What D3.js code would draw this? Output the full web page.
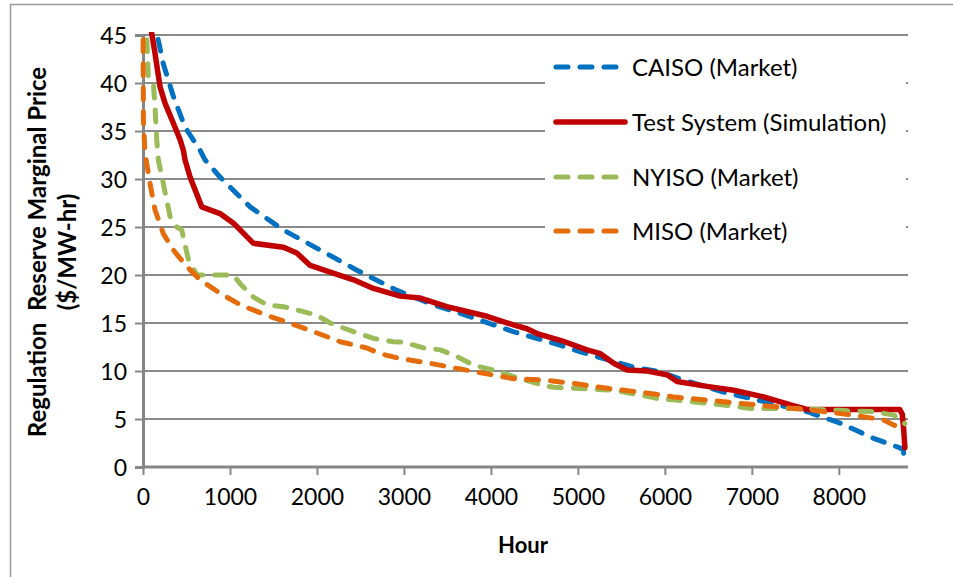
<!DOCTYPE html>
<html>
<head>
<meta charset="utf-8">
<script src="https://cdn.jsdelivr.net/npm/d3@7/dist/d3.min.js"></script>
<style>
  html, body { margin: 0; padding: 0; background: #fff; }
  svg { display: block; }
  text { font-family: Lato, "Liberation Sans", sans-serif; fill: #000; }
</style>
</head>
<body>
<svg id="chart" width="953" height="577"></svg>
<script>
// Price duration curves: regulation reserve marginal price sorted by hour
const caisoHours = [120, 158, 233, 349, 483, 656, 713, 886, 1231, 1611, 2037, 2459, 2919, 3337, 3648, 4258, 4718, 5029, 5409, 5639, 5950, 6214, 6674, 6985, 7637, 8021, 8400, 8700, 8740, 8760];
const caisoPrice = [47, 45.2, 42.0, 38.6, 35.4, 33.0, 32.0, 30.2, 27.1, 24.7, 22.6, 20.5, 18.4, 16.9, 16.0, 14.1, 12.9, 12.0, 11.0, 10.4, 9.9, 9.06, 7.8, 7.15, 5.76, 4.55, 2.99, 2.0, 1.8, 0.4];

const testHours = [60, 100, 138, 196, 253, 349, 426, 464, 483, 541, 675, 886, 1040, 1270, 1615, 1768, 1922, 2152, 2420, 2650, 2957, 3188, 3494, 3724, 3954, 4260, 4415, 4530, 4799, 5105, 5259, 5412, 5566, 5796, 6025, 6140, 6485, 6791, 7136, 7445, 7637, 8700, 8730, 8745, 8760];
const testPrice = [47, 45.2, 43.1, 39.6, 37.9, 35.8, 34.1, 33.0, 32.0, 30.2, 27.1, 26.4, 25.4, 23.3, 22.9, 22.3, 21.0, 20.3, 19.5, 18.6, 17.8, 17.6, 16.7, 16.2, 15.7, 14.8, 14.4, 13.9, 13.2, 12.2, 11.8, 10.8, 10.1, 10.0, 9.6, 8.9, 8.4, 8.0, 7.3, 6.46, 6.0, 6.0, 5.5, 4.0, 2.0];

const nyisoHours = [30, 42, 61, 119, 138, 158, 176, 234, 311, 388, 445, 522, 618, 1040, 1116, 1270, 1423, 1615, 1922, 1998, 2152, 2267, 2420, 2650, 2880, 2996, 3226, 3418, 3609, 3801, 4031, 4338, 4606, 4723, 4953, 5412, 5834, 5950, 6102, 6676, 6985, 7445, 8021, 8405, 8635, 8760];
const nyisoPrice = [47, 45.2, 40.7, 40.0, 37.5, 34.1, 32.0, 29.5, 26.1, 25.0, 24.7, 21.6, 20.0, 20.0, 19.1, 17.7, 16.9, 16.7, 16.0, 15.8, 15.0, 14.6, 14.1, 13.4, 13.05, 13.0, 12.4, 12.2, 11.5, 10.6, 10.1, 9.2, 8.5, 8.3, 8.2, 8.0, 7.3, 7.05, 7.0, 6.46, 6.1, 6.1, 5.9, 5.76, 5.4, 4.5];

const misoHours = [0, 5, 23, 81, 138, 234, 349, 502, 656, 886, 1116, 1423, 1653, 1960, 2267, 2574, 2727, 2957, 3303, 3648, 3954, 4261, 4606, 4953, 5336, 5719, 6102, 6676, 7251, 7710, 8171, 8516, 8760];
const misoPrice = [47, 36.0, 32.7, 29.5, 26.8, 24.3, 22.6, 20.9, 19.5, 18.1, 16.9, 15.8, 15.1, 14.1, 13.05, 12.4, 11.8, 11.3, 10.8, 10.2, 9.7, 9.2, 9.06, 8.7, 8.2, 7.8, 7.3, 6.8, 6.3, 5.9, 5.4, 4.9, 3.8];

const seriesNames = ["CAISO (Market)", "Test System (Simulation)", "NYISO (Market)", "MISO (Market)"];
const seriesColors = ["#0070C0", "#C00000", "#9BBB59", "#E46C0A"];
const xTicks = [0, 1000, 2000, 3000, 4000, 5000, 6000, 7000, 8000];
const yTicks = [0, 5, 10, 15, 20, 25, 30, 35, 40, 45];

const series = [
  { name: seriesNames[0], color: seriesColors[0], hours: caisoHours, price: caisoPrice, dash: "12,12", width: 5 },
  { name: seriesNames[1], color: seriesColors[1], hours: testHours, price: testPrice, dash: null, width: 5.5 },
  { name: seriesNames[2], color: seriesColors[2], hours: nyisoHours, price: nyisoPrice, dash: "12,12", width: 5 },
  { name: seriesNames[3], color: seriesColors[3], hours: misoHours, price: misoPrice, dash: "12,12", width: 5 }
];

const svg = d3.select("#chart");
const plot = { left: 143, right: 907, top: 35, bottom: 467 };

const x = d3.scaleLinear().domain([0, 8784]).range([plot.left, plot.right]);
const y = d3.scaleLinear().domain([0, 45]).range([plot.bottom, plot.top]);

// outer chart frame
svg.append("rect")
  .attr("x", 10.5).attr("y", 4.5)
  .attr("width", 1000).attr("height", 700)
  .attr("fill", "none").attr("stroke", "#9a9a9a").attr("stroke-width", 1.5);

// horizontal gridlines
svg.append("g")
  .selectAll("line")
  .data(yTicks.filter(d => d > 0))
  .join("line")
  .attr("x1", plot.left).attr("x2", plot.right + 1)
  .attr("y1", d => y(d)).attr("y2", d => y(d))
  .attr("stroke", "#8a8a8a").attr("stroke-width", 2);

// y axis
const yAxis = svg.append("g")
  .attr("transform", `translate(${plot.left},0)`)
  .call(d3.axisLeft(y).tickValues(yTicks).tickSize(8).tickPadding(8).tickFormat(d3.format("d")));
yAxis.select(".domain").attr("stroke", "#868686").attr("stroke-width", 3);
yAxis.selectAll(".tick line").attr("stroke", "#868686").attr("stroke-width", 2);
yAxis.selectAll(".tick text").style("font-size", "23px").attr("dy", "0.36em");

// x axis
const xAxis = svg.append("g")
  .attr("transform", `translate(0,${plot.bottom})`)
  .call(d3.axisBottom(x).tickValues(xTicks).tickSize(8).tickPadding(14).tickFormat(d3.format("d")));
xAxis.select(".domain").attr("stroke", "#868686").attr("stroke-width", 3)
  .attr("d", `M${plot.left},0H${plot.right + 1}`);
xAxis.selectAll(".tick line").attr("stroke", "#868686").attr("stroke-width", 2);
xAxis.selectAll(".tick text").style("font-size", "23px");

// clip for series lines
svg.append("defs").append("clipPath").attr("id", "plotClip")
  .append("rect")
  .attr("x", plot.left - 3).attr("y", plot.top - 3)
  .attr("width", plot.right - plot.left + 8).attr("height", plot.bottom - plot.top + 6);

const line = d3.line().x(d => x(d[0])).y(d => y(d[1])).curve(d3.curveLinear);

const lines = svg.append("g").attr("clip-path", "url(#plotClip)");
series.forEach(s => {
  const pts = s.hours.map((h, i) => [h, s.price[i]]);
  lines.append("path")
    .datum(pts)
    .attr("d", line)
    .attr("fill", "none")
    .attr("stroke", s.color)
    .attr("stroke-width", s.width)
    .attr("stroke-linecap", "round")
    .attr("stroke-linejoin", "round")
    .attr("stroke-dasharray", s.dash);
});

// legend
const legend = svg.append("g");
legend.append("rect")
  .attr("x", 545).attr("y", 45).attr("width", 361).attr("height", 205)
  .attr("fill", "#fff");
const rowY = [67, 122, 177, 231];
series.forEach((s, i) => {
  legend.append("line")
    .attr("x1", 556).attr("x2", s.dash ? 617 : 625)
    .attr("y1", rowY[i]).attr("y2", rowY[i])
    .attr("stroke", s.color)
    .attr("stroke-width", s.width)
    .attr("stroke-linecap", "round")
    .attr("stroke-dasharray", s.dash);
  legend.append("text")
    .attr("x", 632).attr("y", rowY[i]).attr("dy", "0.36em")
    .style("font-size", "24px")
    .text(s.name);
});

// axis titles
svg.append("text")
  .attr("x", 523).attr("y", 553)
  .attr("text-anchor", "middle")
  .style("font-size", "22px").style("font-weight", "bold")
  .text("Hour");

const yTitle = svg.append("text")
  .attr("transform", "translate(0,252) rotate(-90)")
  .attr("text-anchor", "middle")
  .style("font-size", "24px").style("font-weight", "bold")
  .style("white-space", "pre");
yTitle.append("tspan").attr("x", 0).attr("y", 46).text("Regulation  Reserve Marginal Price");
yTitle.append("tspan").attr("x", 0).attr("y", 76).text("($/MW-hr)");
</script>
</body>
</html>
